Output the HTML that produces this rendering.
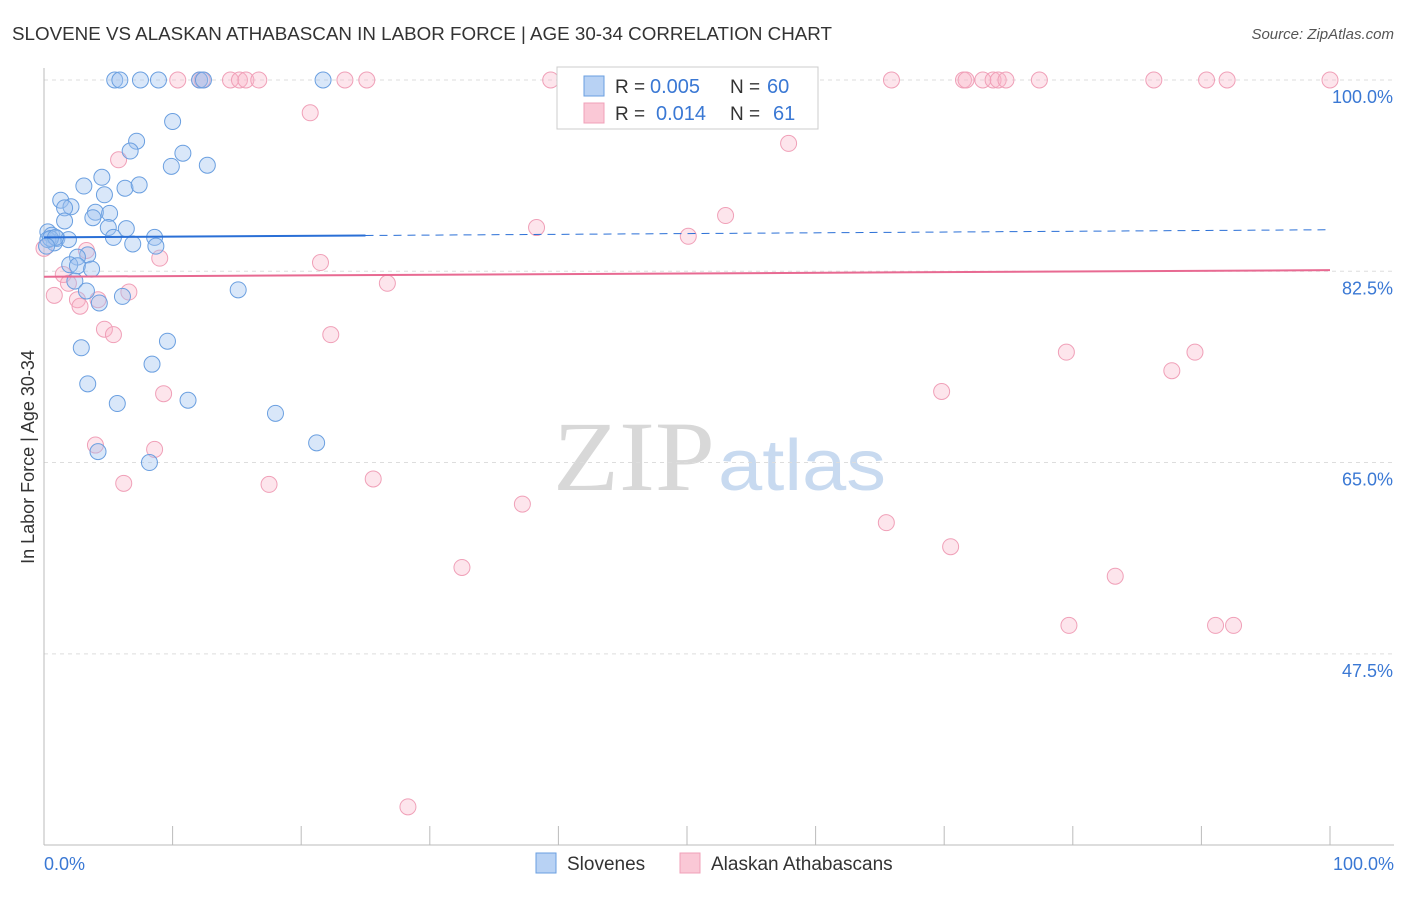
<!DOCTYPE html>
<html><head><meta charset="utf-8">
<style>
body{margin:0;background:#fff;font-family:"Liberation Sans",sans-serif;}
</style></head>
<body>
<svg id="chart" width="1406" height="892" viewBox="0 0 1406 892" xmlns="http://www.w3.org/2000/svg" font-family="Liberation Sans, sans-serif">
<text x="12" y="40" font-size="18" fill="#333" textLength="820" lengthAdjust="spacingAndGlyphs">SLOVENE VS ALASKAN ATHABASCAN IN LABOR FORCE | AGE 30-34 CORRELATION CHART</text>
<text x="1394" y="39" font-size="15" fill="#555" text-anchor="end" font-style="italic">Source: ZipAtlas.com</text>
<text x="553" y="490" font-size="100" fill="#d8d8d8" style="font-family:'Liberation Serif',serif" textLength="162" lengthAdjust="spacingAndGlyphs">ZIP</text>
<text x="718" y="490" font-size="72" fill="#c8daf0" textLength="168" lengthAdjust="spacingAndGlyphs">atlas</text>
<text transform="translate(34,457) rotate(-90)" font-size="18" fill="#333" text-anchor="middle">In Labor Force | Age 30-34</text>
<g id="grid"></g>
<g id="axes"></g>
<g id="points"></g>
<g id="trends"></g>
<g>
<rect x="557" y="67" width="261" height="62" fill="#fff" stroke="#ccc"/>
<rect x="584" y="76" width="20" height="20" fill="#b8d2f4" stroke="#6a9fe0"/>
<rect x="584" y="103" width="20" height="20" fill="#fac8d6" stroke="#f0a0b8"/>
<text y="93" font-size="19" fill="#333"><tspan x="615">R =</tspan><tspan x="650" fill="#3a78d4" font-size="20">0.005</tspan><tspan x="730">N =</tspan><tspan x="767" fill="#3a78d4" font-size="20">60</tspan></text>
<text y="120" font-size="19" fill="#333"><tspan x="615">R =</tspan><tspan x="656" fill="#3a78d4" font-size="20">0.014</tspan><tspan x="730">N =</tspan><tspan x="773" fill="#3a78d4" font-size="20">61</tspan></text>
</g>
<g>
<rect x="536" y="853" width="20" height="20" fill="#b8d2f4" stroke="#6a9fe0"/>
<text x="567" y="870" font-size="19" fill="#333">Slovenes</text>
<rect x="680" y="853" width="20" height="20" fill="#fac8d6" stroke="#f0a0b8"/>
<text x="711" y="870" font-size="19" fill="#333">Alaskan Athabascans</text>
</g>
</svg>
<script>
const yTicks=[100,82.5,65,47.5];
const yTickLabels=["100.0%","82.5%","65.0%","47.5%"];
const blueX=[5.5,5.9,7.5,8.9,12.1,12.4,21.7,10.0,7.2,6.7,10.8,9.9,12.7,4.5,3.1,6.3,7.4,4.7,1.3,2.1,1.6,4.0,5.1,3.8,1.6,5.0,6.4,0.3,0.6,1.0,1.9,0.8,5.4,8.6,8.7,6.9,3.4,2.6,2.0,2.6,3.7,2.4,3.3,6.1,4.3,15.1,2.9,9.6,8.4,3.4,5.7,11.2,18.0,21.2,4.2,8.2,0.3,0.5,0.9,0.2];
const blueY=[100,100,100,100,100,100,100,96.2,94.4,93.5,93.3,92.1,92.2,91.1,90.3,90.1,90.4,89.5,89.0,88.4,88.3,87.9,87.8,87.4,87.1,86.5,86.4,86.1,85.8,85.5,85.4,85.1,85.6,85.6,84.8,85.0,84.0,83.8,83.1,83.0,82.7,81.6,80.7,80.2,79.6,80.8,75.5,76.1,74.0,72.2,70.4,70.7,69.5,66.8,66.0,65.0,85.4,85.5,85.6,84.8];
const pinkX=[10.4,12.1,12.3,14.5,15.2,15.7,16.7,23.4,25.1,39.4,65.9,71.5,71.7,73.0,73.8,74.2,74.8,77.4,86.3,90.4,92.0,100,20.7,57.9,5.8,53.0,38.3,50.1,3.3,9.0,21.5,1.5,1.9,0.8,2.6,2.8,4.2,6.6,26.7,4.7,5.4,22.3,79.5,89.5,87.7,69.8,9.3,4.0,8.6,6.2,17.5,25.6,37.2,65.5,70.5,32.5,83.3,79.7,91.1,92.5,28.3,0];
const pinkY=[100,100,100,100,100,100,100,100,100,100,100,100,100,100,100,100,100,100,100,100,100,100,97.0,94.2,92.7,87.6,86.5,85.7,84.4,83.7,83.3,82.2,81.4,80.3,79.9,79.3,79.9,80.6,81.4,77.2,76.7,76.7,75.1,75.1,73.4,71.5,71.3,66.6,66.2,63.1,63.0,63.5,61.2,59.5,57.3,55.4,54.6,50.1,50.1,50.1,33.5,84.6];
const blueTrend=[85.6,86.3];
const pinkTrend=[82.0,82.6];
const blueSolidEnd=25;

const X0=44,X1=1330,Y100=80,PXPER=10.93;
function sx(v){return X0+(X1-X0)*v/100;}
function sy(v){return Y100+(100-v)*PXPER;}
const NS="http://www.w3.org/2000/svg";
function mk(tag,attrs,parent){const e=document.createElementNS(NS,tag);for(const k in attrs)e.setAttribute(k,attrs[k]);parent.appendChild(e);return e;}
const grid=document.getElementById('grid'),axes=document.getElementById('axes'),pts=document.getElementById('points'),tr=document.getElementById('trends');
yTicks.forEach((t,i)=>{
  const l=mk('line',{x1:X0,x2:1394,y1:sy(t),y2:sy(t),stroke:'#ddd','stroke-dasharray':'4,4'},grid);
  
  
  const tx=mk('text',{x:1393,y:sy(t)+23,'font-size':18,fill:'#3a78d4','text-anchor':'end'},axes);
  tx.textContent=yTickLabels[i];
  
  
});
mk('line',{x1:X0,x2:X0,y1:68,y2:845,stroke:'#bbb'},axes);
mk('line',{x1:X0,x2:1394,y1:845,y2:845,stroke:'#bbb'},axes);
for(let i=0;i<=10;i++){const x=X0+i*(X1-X0)/10;mk('line',{x1:x,x2:x,y1:826,y2:845,stroke:'#bbb'},axes);}
const xl=mk('text',{x:44,y:870,'font-size':18,fill:'#3a78d4'},axes);xl.textContent='0.0%';


const xr=mk('text',{x:1394,y:870,'font-size':18,fill:'#3a78d4','text-anchor':'end'},axes);xr.textContent='100.0%';


pinkX.forEach((v,i)=>{const c=mk('circle',{cx:sx(v),cy:sy(pinkY[i]),r:8,fill:'rgba(248,180,200,0.35)',stroke:'#f0a0b8','stroke-width':1},pts);

});
blueX.forEach((v,i)=>{const c=mk('circle',{cx:sx(v),cy:sy(blueY[i]),r:8,fill:'rgba(160,196,240,0.4)',stroke:'#6a9fe0','stroke-width':1},pts);

});
function bt(x){return blueTrend[0]+(blueTrend[1]-blueTrend[0])*x/100;}
const b1=mk('line',{x1:sx(0),y1:sy(bt(0)),x2:sx(blueSolidEnd),y2:sy(bt(blueSolidEnd)),stroke:'#2a6fd6','stroke-width':2},tr);


const b2=mk('line',{x1:sx(blueSolidEnd),y1:sy(bt(blueSolidEnd)),x2:sx(100),y2:sy(bt(100)),stroke:'#2a6fd6','stroke-width':1,'stroke-dasharray':'8,6'},tr);


const p1=mk('line',{x1:sx(0),y1:sy(pinkTrend[0]),x2:sx(100),y2:sy(pinkTrend[1]),stroke:'#e86a92','stroke-width':2},tr);


</script>
</body></html>
